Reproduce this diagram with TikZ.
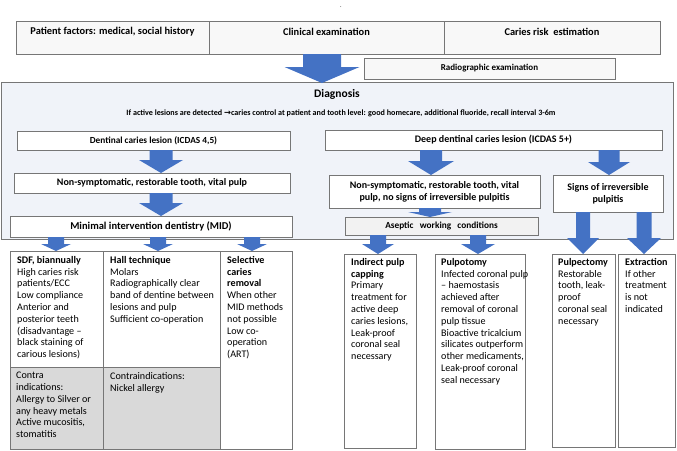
\documentclass[tikz,border=0pt]{standalone}
\usepackage{fontspec}
\setmainfont{Carlito}
\newfontfamily\symfont{DejaVu Sans}
\definecolor{arrowblue}{HTML}{4472C4}
\definecolor{bordergray}{HTML}{767676}
\definecolor{diagfill}{HTML}{F0F3F9}
\definecolor{cellgray}{HTML}{D9D9D9}
\definecolor{asepticfill}{HTML}{F2F2F2}
\definecolor{topfill}{HTML}{F8F8F8}
\tikzset{
  bxb/.style={draw=bordergray, line width=0.7pt, fill=white, inner sep=0pt, outer sep=0pt,
    align=center, font=\bfseries\fontsize{10}{12.2}\selectfont},
  celltext/.style={inner sep=0pt, align=left, anchor=north west, font=\fontsize{10.1}{11.8}\selectfont},
  toptext/.style={inner sep=0pt, font=\bfseries\fontsize{10.4}{12}\selectfont},
  arr/.style={fill=arrowblue, draw=none},
}
\newcommand\bx[7]{\node[bxb,#6,minimum width={(#4-#2)*1pt},minimum height={(#5-#3)*1pt}] (#1) at ({(#2+#4)/2},{(#3+#5)/2}) {#7};}
\newcommand\blockarrow[6]{\fill[arr] ({#1-#5},#2) -- ({#1+#5},#2) -- ({#1+#5},#3) -- ({#1+#6},#3) -- (#1,#4) -- ({#1-#6},#3) -- ({#1-#5},#3) -- cycle;}
\begin{document}
\begin{tikzpicture}[x=1pt,y=-1pt]
\useasboundingbox (0,0) rectangle (677,450);
% tiny mark
\node[inner sep=0pt, font=\fontsize{6}{6}\selectfont] (mark) at (341,7) {.};
% top row
\bx{pf}{16}{21}{209}{54}{fill=topfill}{}
\bx{ce}{209}{21}{444}{54}{fill=topfill}{}
\bx{cr}{444}{21}{660}{54}{fill=topfill}{}
\node[toptext] (pft) at (112.5,32) {Patient factors: medical, social history};
\node[toptext] (cet) at (326.5,32) {Clinical examination};
\node[toptext] (crt) at (552,32) {Caries risk\ \ estimation};
\bx{rad}{364}{58}{615}{79}{fill=topfill, font=\bfseries\fontsize{9}{10}\selectfont}{Radiographic examination}
% diagnosis
\bx{diag}{1}{82}{673}{239}{fill=diagfill}{}
\node[inner sep=0pt, font=\bfseries\fontsize{11.5}{13}\selectfont] (diagt) at (337,94) {Diagnosis};
\node[inner sep=0pt, font=\bfseries\fontsize{8.1}{10}\selectfont] (diagl) at (341,113) {If active lesions are detected {\symfont\fontsize{8.3}{10}\selectfont →}caries control at patient and tooth level: good homecare, additional fluoride, recall interval 3-6m};
% left branch
\bx{dent}{17}{131}{290}{150}{font=\bfseries\fontsize{9.3}{11}\selectfont}{Dentinal caries lesion (ICDAS 4,5)}
\bx{nsl}{14}{173}{290}{193}{}{Non-symptomatic, restorable tooth, vital pulp}
\bx{mid}{10}{216}{292}{237}{font=\bfseries\fontsize{10.5}{12}\selectfont}{Minimal intervention dentistry (MID)}
% right branch
\bx{deep}{325}{130}{662}{150}{}{Deep dentinal caries lesion (ICDAS 5+)}
\bx{nsr}{329}{175}{540}{208}{}{Non-symptomatic, restorable tooth, vital\\pulp, no signs of irreversible pulpitis}
\bx{signs}{553}{175}{663}{212}{}{Signs of irreversible\\pulpitis}
\bx{asep}{345}{217}{538}{235}{fill=asepticfill, font=\bfseries\fontsize{9.3}{11}\selectfont}{Aseptic\ \ \ working\ \ \ conditions}
% left table
\bx{c1}{10}{251}{103}{367}{}{}
\bx{c2}{103}{251}{220}{367}{}{}
\bx{c3}{220}{251}{292}{449}{}{}
\bx{c4}{10}{367}{103}{449}{fill=cellgray}{}
\bx{c5}{103}{367}{220}{449}{fill=cellgray}{}
\node[celltext] (t1) at ([xshift=7pt,yshift=-5pt]c1.north west) {\textbf{SDF, biannually}\\High caries risk\\patients/ECC\\Low compliance\\Anterior and\\posterior teeth\\(disadvantage –\\black staining of\\carious lesions)};
\node[celltext] (t2) at ([xshift=7pt,yshift=-5pt]c2.north west) {\textbf{Hall technique}\\Molars\\Radiographically clear\\band of dentine between\\lesions and pulp\\Sufficient co-operation};
\node[celltext] (t3) at ([xshift=7pt,yshift=-5pt]c3.north west) {\textbf{Selective}\\\textbf{caries}\\\textbf{removal}\\When other\\MID methods\\not possible\\Low co-\\operation\\(ART)};
\node[celltext] (t4) at ([xshift=6pt,yshift=-5pt]c4.north west) {Contra\\indications:\\Allergy to Silver or\\any heavy metals\\Active mucositis,\\stomatitis};
\node[celltext] (t5) at ([xshift=7pt,yshift=-5pt]c5.north west) {Contraindications:\\Nickel allergy};
% right boxes
\bx{ipc}{344}{254}{416}{448}{}{}
\bx{pto}{435}{254}{525}{449}{}{}
\bx{pec}{552}{254}{615}{447}{}{}
\bx{ext}{618}{254}{675}{447}{}{}
\node[celltext] (t6) at ([xshift=7pt,yshift=-4pt]ipc.north west) {\textbf{Indirect pulp}\\\textbf{capping}\\Primary\\treatment for\\active deep\\caries lesions,\\Leak-proof\\coronal seal\\necessary};
\node[celltext] (t7) at ([xshift=6pt,yshift=-4pt]pto.north west) {\textbf{Pulpotomy}\\Infected coronal pulp\\– haemostasis\\achieved after\\removal of coronal\\pulp tissue\\Bioactive tricalcium\\silicates outperform\\other medicaments,\\Leak-proof coronal\\seal necessary};
\node[celltext] (t8) at ([xshift=6pt,yshift=-4pt]pec.north west) {\textbf{Pulpectomy}\\Restorable\\tooth, leak-\\proof\\coronal seal\\necessary};
\node[celltext] (t9) at ([xshift=7pt,yshift=-4pt]ext.north west) {\textbf{Extraction}\\If other\\treatment\\is not\\indicated};
% block arrows
\blockarrow{322}{54}{67}{83}{19}{37.5}
\blockarrow{161}{150}{160}{173}{11.5}{22}
\blockarrow{161}{193}{203}{216}{11.5}{22}
\blockarrow{56}{237}{244}{251}{8}{15}
\blockarrow{158}{237}{244}{251}{8}{15}
\blockarrow{252}{237}{244}{251}{8}{15}
\blockarrow{431}{150}{161}{175}{11}{23}
\blockarrow{609}{150}{162}{175}{10.5}{21}
\blockarrow{430}{208}{212}{217}{11}{22}
\blockarrow{378}{235}{244}{254}{8}{16}
\blockarrow{478}{235}{244}{254}{8}{17}
\blockarrow{583}{212}{238}{254}{7}{16}
\blockarrow{644}{212}{238}{254}{7.5}{17}
\end{tikzpicture}
\end{document}
